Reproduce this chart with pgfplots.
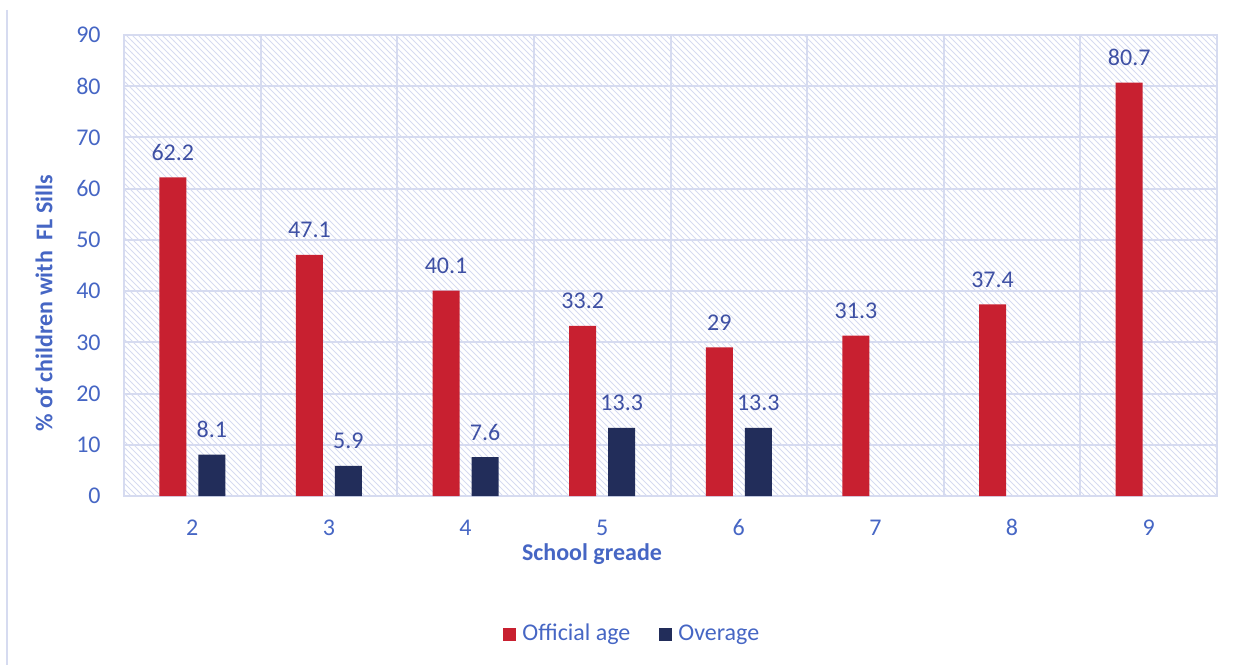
\documentclass[border=0pt]{standalone}
\usepackage{pgfplots}
\pgfplotsset{compat=1.18}
\usepackage{fontspec}
\setmainfont{Carlito}
\usetikzlibrary{patterns}

\definecolor{official}{RGB}{200,32,48}
\definecolor{overage}{RGB}{34,45,90}
\definecolor{ticktext}{RGB}{70,102,196}
\definecolor{labeltext}{RGB}{62,80,164}
\definecolor{gridc}{RGB}{214,219,240}
\definecolor{hatch}{RGB}{214,219,240}

\begin{document}
\begin{tikzpicture}[x=1pt,y=1pt]
\useasboundingbox (-62,-84.5) rectangle (555.5,248);
\fontsize{12}{14}\selectfont
\begin{axis}[
  at={(0,0)}, anchor=origin,
  scale only axis,
  width=546.5pt, height=230.5pt,
  ymin=0, ymax=90, ytick={0,10,...,90},
  xmin=0.5, xmax=8.5,
  xtick={1,...,8},
  xticklabels={2,3,4,5,6,7,8,9},
  minor xtick={1.5,2.5,...,7.5},
  ymajorgrids, xminorgrids,
  major grid style={gridc, line width=1pt},
  minor grid style={gridc, line width=1pt},
  axis line style={gridc, line width=1pt},
  major tick length=0pt, minor tick length=0pt,
  tick style={draw=none},
  axis background/.style={pattern=north west lines, pattern color=hatch},
  /pgf/number format/assume math mode=true,
  ticklabel style={font=\fontsize{12}{14}\selectfont, text=ticktext},
  yticklabel style={anchor=east, inner sep=0pt, xshift=-11.5pt},
  xticklabel style={anchor=base, inner sep=0pt, yshift=-19.75pt},
  ybar=6pt, bar width=13.5pt,
  nodes near coords,
  every node near coord/.append style={anchor=base, inner sep=0pt, yshift=8.5pt,
    font=\fontsize{12}{14}\selectfont, text=labeltext},
  legend columns=2,
  legend style={draw=none, fill=none, at={(0.466,-0.3)}, anchor=center,
    font=\fontsize{12}{14}\selectfont, text=ticktext,
    /tikz/every even column/.append style={column sep=12.5pt}},
  legend image code/.code={\fill[#1,draw=none] (0pt,-3.25pt) rectangle (6.5pt,3.25pt);
    \path (7.5pt,0pt);},
]
\addplot[fill=official, draw=none] coordinates {
  (1,62.2) (2,47.1) (3,40.1) (4,33.2) (5,29) (6,31.3) (7,37.4) (8,80.7)};
\addplot[fill=overage, draw=none] coordinates {
  (1,8.1) (2,5.9) (3,7.6) (4,13.3) (5,13.3)};
\legend{Official age, Overage}
\end{axis}
% axis titles
\node[text=ticktext, font=\fontsize{12}{14}\selectfont\bfseries] at (234,-29) {School greade};
\node[text=ticktext, font=\fontsize{12}{14}\selectfont\bfseries, rotate=90] at (-40,96.5) {\% of children with\ \ FL Sills};
% frame edge on the left
\draw[gridc, line width=0.8pt] (-58.5,243) -- (-58.5,-84.5);
\end{tikzpicture}
\end{document}
